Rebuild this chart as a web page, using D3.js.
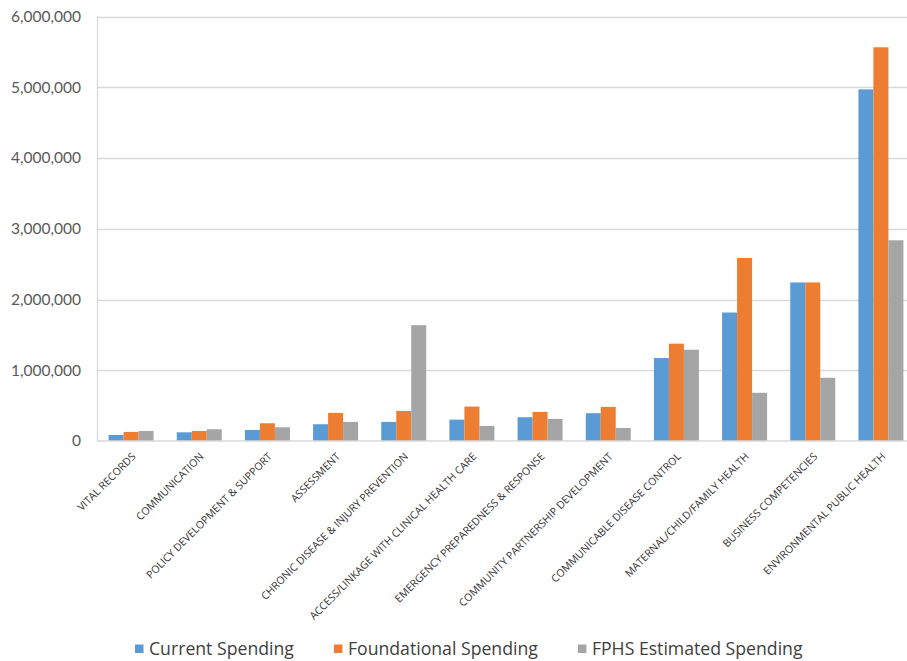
<!DOCTYPE html>
<html>
<head>
<meta charset="utf-8">
<script src="https://cdn.jsdelivr.net/npm/d3@7"></script>
<style>
  html, body { margin: 0; padding: 0; background: #fff; }
  svg { display: block; }
</style>
</head>
<body>
<svg id="chart" width="907" height="661"></svg>
<script>
const categories = [
  "VITAL RECORDS",
  "COMMUNICATION",
  "POLICY DEVELOPMENT & SUPPORT",
  "ASSESSMENT",
  "CHRONIC DISEASE & INJURY PREVENTION",
  "ACCESS/LINKAGE WITH CLINICAL HEALTH CARE",
  "EMERGENCY PREPAREDNESS & RESPONSE",
  "COMMUNITY PARTNERSHIP DEVELOPMENT",
  "COMMUNICABLE DISEASE CONTROL",
  "MATERNAL/CHILD/FAMILY HEALTH",
  "BUSINESS COMPETENCIES",
  "ENVIRONMENTAL PUBLIC HEALTH"
];
const seriesNames = ["Current Spending", "Foundational Spending", "FPHS Estimated Spending"];
const currentSpending =      [85000, 123000, 156000, 237000, 270000, 302000, 336000, 393000, 1173000, 1816000, 2241000, 4970000];
const foundationalSpending = [128000, 142000, 251000, 397000, 425000, 487000, 411000, 482000, 1376000, 2587000, 2241000, 5565000];
const fphsEstimated =        [142000, 166000, 194000, 270000, 1637000, 213000, 312000, 184000, 1290000, 681000, 894000, 2837000];
const yTicks = [0, 1000000, 2000000, 3000000, 4000000, 5000000, 6000000];
const colors = ["#5B9BD5", "#ED7D31", "#A5A5A5"];

const seriesValues = [currentSpending, foundationalSpending, fphsEstimated];
const svg = d3.select("#chart");
const W = 907;

const x0 = d3.scaleBand().domain(categories).range([97, 915]).padding(0);
const x1 = d3.scaleBand().domain(seriesNames)
  .range([x0.bandwidth() * 0.17, x0.bandwidth() * 0.83]).padding(0);
const y = d3.scaleLinear().domain([0, 6000000]).range([441, 16.5]);

// gridlines
svg.append("g").selectAll("line").data(yTicks.filter(d => d > 0)).join("line")
  .attr("x1", 97).attr("x2", W)
  .attr("y1", d => Math.round(y(d)) + 0.5).attr("y2", d => Math.round(y(d)) + 0.5)
  .attr("stroke", "#D9D9D9").attr("stroke-width", 1.3);

// y axis labels
const yAxis = d3.axisLeft(y).tickValues(yTicks).tickFormat(d3.format(",")).tickSize(0).tickPadding(16);
const yg = svg.append("g").attr("transform", "translate(97,0)").call(yAxis);
yg.select(".domain").remove();
yg.selectAll("text").attr("font-family", "Lato, 'Open Sans', sans-serif")
  .attr("font-size", 15.5).attr("fill", "#595959");

// bars
const groups = svg.append("g").selectAll("g").data(categories).join("g")
  .attr("transform", d => `translate(${x0(d)},0)`);
groups.selectAll("rect")
  .data((c, i) => seriesNames.map((s, k) => ({ s, k, v: seriesValues[k][i] })))
  .join("rect")
  .attr("x", d => x1(d.s))
  .attr("width", x1.bandwidth())
  .attr("y", d => y(d.v))
  .attr("height", d => y(0) - y(d.v))
  .attr("fill", d => colors[d.k]);

// axis lines
svg.append("line").attr("x1", 97.5).attr("x2", 97.5).attr("y1", 16).attr("y2", 441)
  .attr("stroke", "#D9D9D9").attr("stroke-width", 1.3);
svg.append("line").attr("x1", 97).attr("x2", W).attr("y1", 441).attr("y2", 441)
  .attr("stroke", "#D9D9D9").attr("stroke-width", 1.5);

// category labels
const xAxis = d3.axisBottom(x0).tickSize(0).tickPadding(0);
const xg = svg.append("g").attr("transform", "translate(0,441)").call(xAxis);
xg.select(".domain").remove();
const lbl = xg.selectAll("text")
  .attr("font-family", "'Open Sans', sans-serif")
  .attr("font-size", 10)
  .attr("fill", "#333333")
  .attr("text-anchor", "end")
  .attr("dy", "0.7em")
  .attr("transform", "translate(0,11) rotate(-45)");
const longest = lbl.filter(d => d === "ACCESS/LINKAGE WITH CLINICAL HEALTH CARE").node();
const len10 = longest.getComputedTextLength();
lbl.attr("font-size", 10 * 231 / len10);

// legend
const legend = svg.append("g").attr("transform", "translate(0,649)");
const items = legend.selectAll("g").data(seriesNames).join("g");
items.append("rect").attr("x", 0).attr("y", -4.5).attr("width", 8.5).attr("height", 8.5)
  .attr("fill", (d, i) => colors[i]);
const legText = items.append("text").attr("x", 14).attr("y", 0).attr("dy", "0.35em")
  .attr("font-family", "'Open Sans', sans-serif")
  .attr("font-size", 16).attr("fill", "#404040")
  .text(d => d);
const w16 = legText.filter((d, i) => i === 0).node().getComputedTextLength();
const legFont = 16 * 145 / w16;
legText.attr("font-size", legFont);
let lx = 135;
items.each(function () {
  const t = d3.select(this).select("text").node().getComputedTextLength();
  d3.select(this).attr("transform", `translate(${lx},0)`);
  lx += 14 + t + 40;
});
</script>
</body>
</html>
